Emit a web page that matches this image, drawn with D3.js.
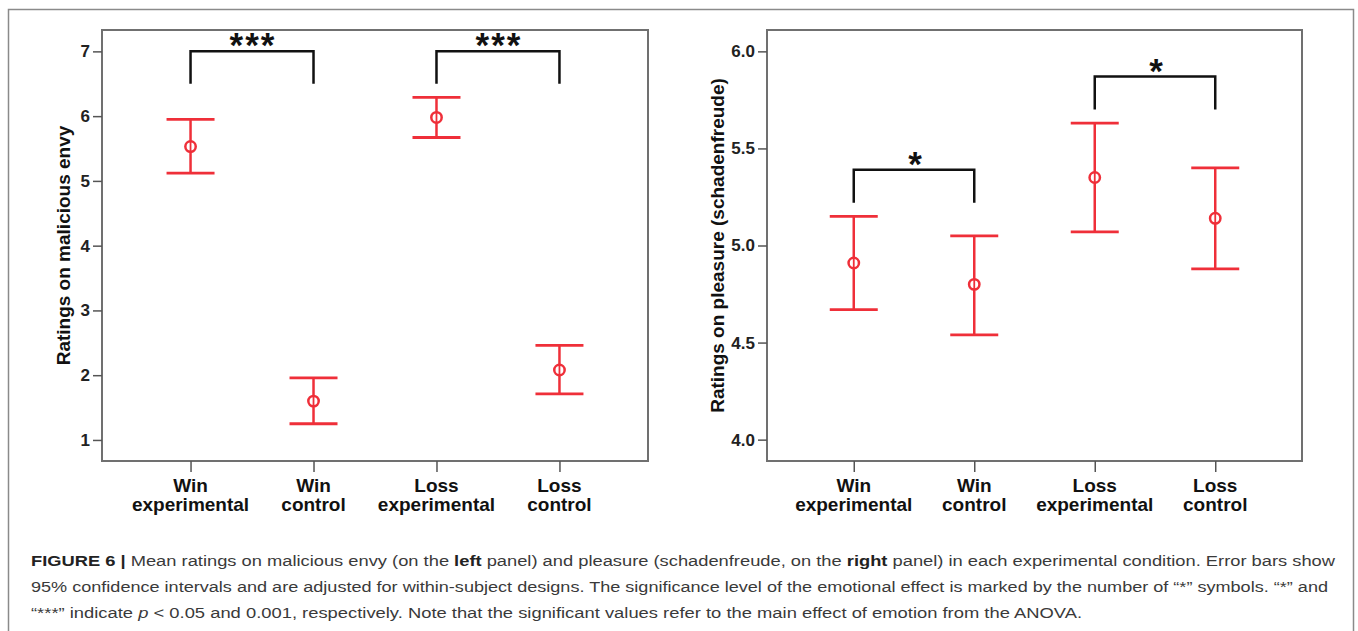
<!DOCTYPE html>
<html>
<head>
<meta charset="utf-8">
<script src="https://cdn.jsdelivr.net/npm/d3@7"></script>
<style>
  body { margin: 0; background: #fff; }
  svg { display: block; font-family: "Liberation Sans", Arial, sans-serif; }
</style>
</head>
<body>
<div id="chart"></div>
<script>
// Conditions shown on both panels
const categories = ["Win experimental", "Win control", "Loss experimental", "Loss control"];
const labelTop = ["Win", "Win", "Loss", "Loss"];
const labelBottom = ["experimental", "control", "experimental", "control"];

// Left panel: malicious envy (mean and 95% CI)
const envyMean  = [5.53, 1.60, 5.98, 2.08];
const envyLower = [5.12, 1.25, 5.67, 1.71];
const envyUpper = [5.95, 1.96, 6.29, 2.46];
const envyTicks = [1, 2, 3, 4, 5, 6, 7];

// Right panel: pleasure / schadenfreude (mean and 95% CI)
const pleasureMean  = [4.91, 4.80, 5.35, 5.14];
const pleasureLower = [4.67, 4.54, 5.07, 4.88];
const pleasureUpper = [5.15, 5.05, 5.63, 5.40];
const pleasureTicks = [4.0, 4.5, 5.0, 5.5, 6.0];

// Significance brackets (pair of conditions, bracket top/bottom in data units)
const envyBrackets = [
    { from: 0, to: 1, top: 7.0, bottom: 6.5, label: "***" },
    { from: 2, to: 3, top: 7.0, bottom: 6.5, label: "***" }
];
const pleasureBrackets = [
    { from: 0, to: 1, top: 5.39, bottom: 5.22, label: "*" },
    { from: 2, to: 3, top: 5.87, bottom: 5.70, label: "*" }
];

const red = "#ef2f39";

const svg = d3.select("#chart").append("svg")
    .attr("width", 1358)
    .attr("height", 631);

// Outer figure frame (bottom edge runs off the page)
svg.append("rect")
    .attr("x", 8.5).attr("y", 9.5)
    .attr("width", 1345).attr("height", 660)
    .attr("fill", "none")
    .attr("stroke", "#8a8a8a")
    .attr("stroke-width", 1.5);

function drawPanel(opts) {
    const { left, right, top, bottom, domain, ticks, fmt, mean, lower, upper, brackets, yLabel, yLabelX } = opts;

    const x = d3.scalePoint().domain(categories).range([left, right]).padding(0.72);
    const y = d3.scaleLinear().domain(domain).range([bottom, top]);

    const g = svg.append("g");

    // Plot frame
    g.append("rect")
        .attr("x", left).attr("y", top)
        .attr("width", right - left).attr("height", bottom - top)
        .attr("fill", "none")
        .attr("stroke", "#707070")
        .attr("stroke-width", 2);

    // Y axis
    const yAxis = g.append("g")
        .attr("transform", `translate(${left},0)`)
        .call(d3.axisLeft(y).tickValues(ticks).tickFormat(fmt).tickSize(9).tickPadding(3));
    yAxis.select(".domain").remove();
    yAxis.selectAll(".tick line").attr("stroke", "#555").attr("stroke-width", 1.5);
    yAxis.selectAll(".tick text")
        .attr("fill", "#222")
        .style("font-size", "17px")
        .style("font-weight", "bold");

    // X axis ticks (labels drawn below as two lines)
    const xAxis = g.append("g")
        .attr("transform", `translate(0,${bottom})`)
        .call(d3.axisBottom(x).tickSize(11).tickFormat(""));
    xAxis.select(".domain").remove();
    xAxis.selectAll(".tick line").attr("stroke", "#555").attr("stroke-width", 1.5);

    categories.forEach((c, i) => {
        g.append("text")
            .attr("x", x(c)).attr("y", 492)
            .attr("text-anchor", "middle")
            .style("font-size", "19px").style("font-weight", "bold")
            .attr("fill", "#111")
            .text(labelTop[i]);
        g.append("text")
            .attr("x", x(c)).attr("y", 511)
            .attr("text-anchor", "middle")
            .style("font-size", "19px").style("font-weight", "bold")
            .attr("fill", "#111")
            .text(labelBottom[i]);
    });

    // Y axis title
    g.append("text")
        .attr("transform", `translate(${yLabelX},${(top + bottom) / 2}) rotate(-90)`)
        .attr("text-anchor", "middle")
        .attr("dy", "0.35em")
        .style("font-size", "19px").style("font-weight", "bold")
        .attr("fill", "#111")
        .text(yLabel);

    // Error bars
    const capHalf = 24;
    categories.forEach((c, i) => {
        const cx = x(c);
        g.append("line")
            .attr("x1", cx).attr("x2", cx)
            .attr("y1", y(upper[i])).attr("y2", y(lower[i]))
            .attr("stroke", red).attr("stroke-width", 2.5);
        [upper[i], lower[i]].forEach(v => {
            g.append("line")
                .attr("x1", cx - capHalf).attr("x2", cx + capHalf)
                .attr("y1", y(v)).attr("y2", y(v))
                .attr("stroke", red).attr("stroke-width", 2.8);
        });
        g.append("circle")
            .attr("cx", cx).attr("cy", y(mean[i]))
            .attr("r", 5.2)
            .attr("fill", "#fff")
            .attr("stroke", red).attr("stroke-width", 2.5);
        // SPSS draws the bar through the marker
        g.append("line")
            .attr("x1", cx).attr("x2", cx)
            .attr("y1", y(mean[i]) - 5).attr("y2", y(mean[i]) + 5)
            .attr("stroke", red).attr("stroke-width", 1.8);
    });

    // Significance brackets
    brackets.forEach(b => {
        const x1 = x(categories[b.from]), x2 = x(categories[b.to]);
        g.append("path")
            .attr("d", `M${x1},${y(b.bottom)}V${y(b.top)}H${x2}V${y(b.bottom)}`)
            .attr("fill", "none")
            .attr("stroke", "#111")
            .attr("stroke-width", 2.5);
        g.append("text")
            .attr("x", (x1 + x2) / 2 + 1)
            .attr("y", y(b.top) + 6)
            .attr("text-anchor", "middle")
            .style("font-size", "35px").style("font-weight", "bold")
            .style("letter-spacing", b.label.length > 1 ? "2px" : "0px")
            .attr("fill", "#111")
            .text(b.label);
    });
}

drawPanel({
    left: 102, right: 648, top: 30, bottom: 461,
    domain: [0.675, 7.33], ticks: envyTicks, fmt: d3.format("d"),
    mean: envyMean, lower: envyLower, upper: envyUpper,
    brackets: envyBrackets,
    yLabel: "Ratings on malicious envy", yLabelX: 63
});

drawPanel({
    left: 767, right: 1302, top: 30, bottom: 461,
    domain: [3.89, 6.11], ticks: pleasureTicks, fmt: d3.format(".1f"),
    mean: pleasureMean, lower: pleasureLower, upper: pleasureUpper,
    brackets: pleasureBrackets,
    yLabel: "Ratings on pleasure (schadenfreude)", yLabelX: 717
});

// Caption
const captionLines = [
    [["FIGURE 6 |", "bold"], [" Mean ratings on malicious envy (on the ", ""], ["left", "bold"], [" panel) and pleasure (schadenfreude, on the ", ""], ["right", "bold"], [" panel) in each experimental condition. Error bars show", ""]],
    [["95% confidence intervals and are adjusted for within-subject designs. The significance level of the emotional effect is marked by the number of \u201c*\u201d symbols. \u201c*\u201d and", ""]],
    [["\u201c***\u201d indicate ", ""], ["p", "italic"], [" < 0.05 and 0.001, respectively. Note that the significant values refer to the main effect of emotion from the ANOVA.", ""]]
];
const captionY = [566, 592, 618];
const captionX = 31;
const captionEnd = [1335, 1328, 1082];

captionLines.forEach((parts, i) => {
    const t = svg.append("text")
        .attr("x", captionX).attr("y", captionY[i])
        .style("font-size", "15.5px")
        .attr("fill", "#3a3a3a")
        .attr("xml:space", "preserve");
    parts.forEach(([s, style]) => {
        const ts = t.append("tspan").text(s);
        if (style === "bold") ts.style("font-weight", "bold").attr("fill", "#222");
        if (style === "italic") ts.style("font-style", "italic");
    });
    // Fit each line to the measured column width
    t.attr("textLength", captionEnd[i] - captionX).attr("lengthAdjust", "spacingAndGlyphs");
});
</script>
</body>
</html>
